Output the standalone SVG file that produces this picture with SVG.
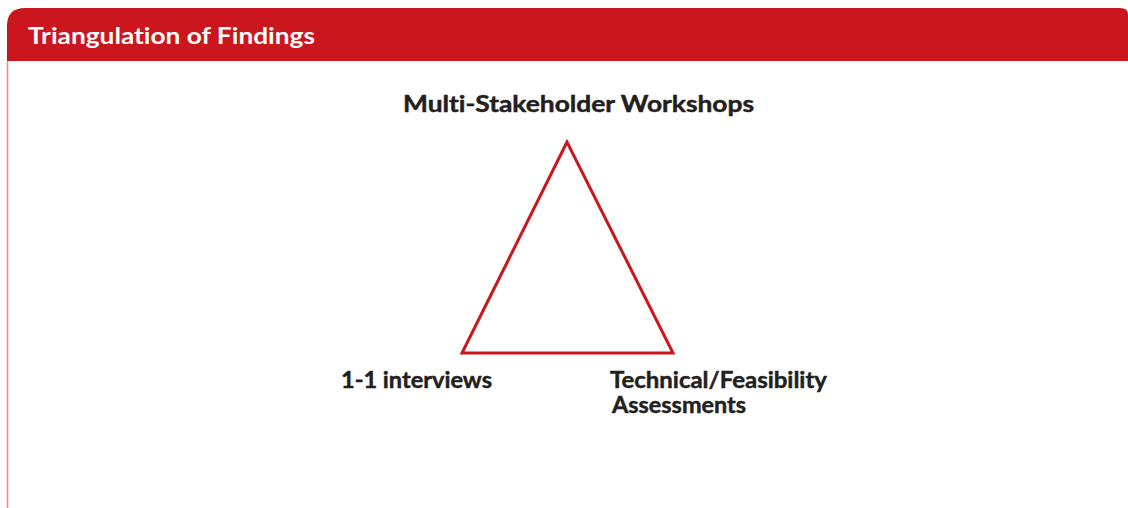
<svg xmlns="http://www.w3.org/2000/svg" width="1128" height="508" viewBox="0 0 1128 508">
<style>
.lbl{font-family:Lato,"Open Sans","Liberation Sans",sans-serif;font-weight:bold;font-size:22px;fill:#231f20;stroke:#231f20;stroke-width:0.45;font-variant-ligatures:none}
.ttl{font-family:Lato,"Open Sans","Liberation Sans",sans-serif;font-weight:bold;font-size:23px;fill:#ffffff;font-variant-ligatures:none}
</style>
<rect width="1128" height="508" fill="#ffffff"/>
<g id="header">
<path d="M7,61 V26 Q7,8 25,8 H1120 Q1128,8 1128,14 V61 Z" fill="#cc161e"/>
<line x1="7.5" y1="61" x2="7.5" y2="508" stroke="#ec8b90" stroke-width="1.6"/>
<text class="ttl" x="28" y="44" textLength="287" lengthAdjust="spacingAndGlyphs">Triangulation of Findings</text>
</g>
<g id="connectors">
<polygon points="567,142 462,353 673,353" fill="none" stroke="#cc161e" stroke-width="3" stroke-linejoin="miter"/>
</g>
<g id="node-workshops">
<text class="lbl" x="403" y="112" textLength="351" lengthAdjust="spacingAndGlyphs">Multi-Stakeholder Workshops</text>
</g>
<g id="node-interviews">
<text class="lbl" x="341" y="388" textLength="151" lengthAdjust="spacingAndGlyphs">1-1 interviews</text>
</g>
<g id="node-technical">
<text class="lbl" x="610" y="388" textLength="217" lengthAdjust="spacingAndGlyphs">Technical/Feasibility</text>
<text class="lbl" x="612" y="413" textLength="134" lengthAdjust="spacingAndGlyphs">Assessments</text>
</g>
</svg>
